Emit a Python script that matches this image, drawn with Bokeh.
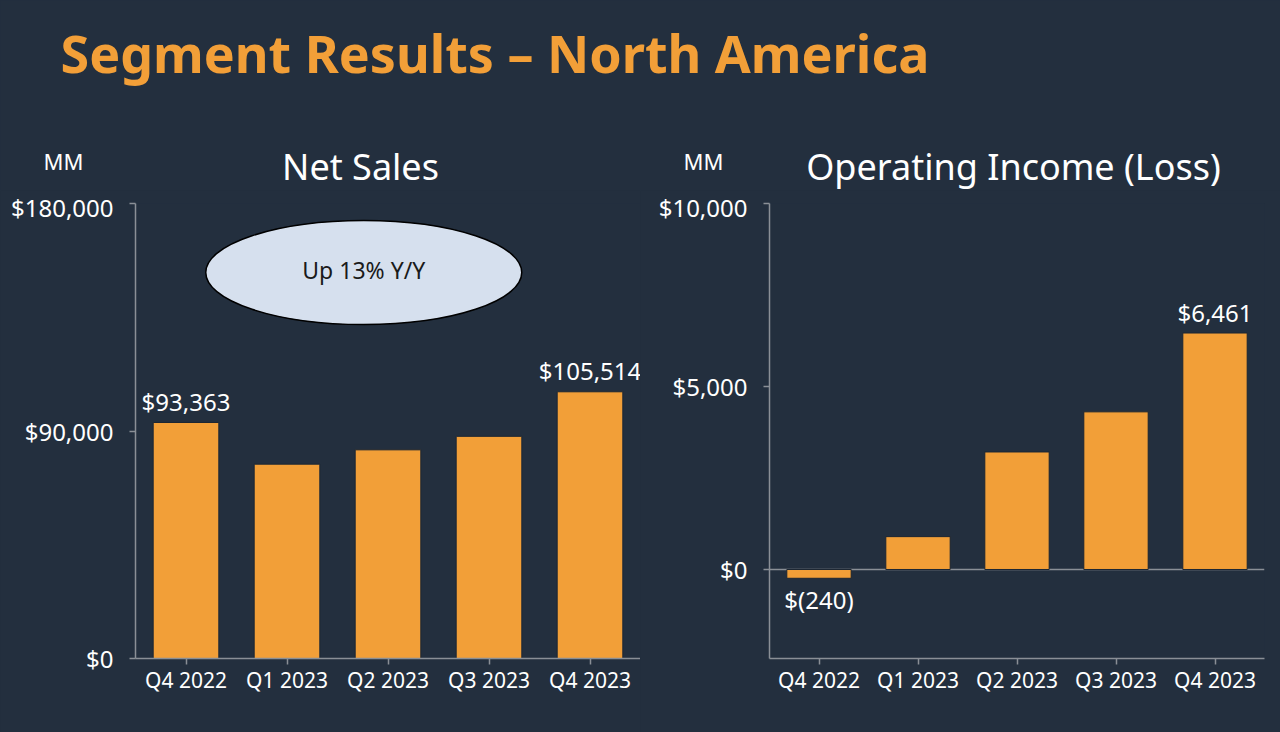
from bokeh.plotting import figure
from bokeh.models import (ColumnDataSource, FactorRange, Range1d, FixedTicker,
                          NumeralTickFormatter, Label, Span)
from bokeh.layouts import column, row
from bokeh.embed import file_html
from bokeh.resources import INLINE
from bokeh.core.properties import value

# ---------------- data ----------------
quarters = ["Q4 2022", "Q1 2023", "Q2 2023", "Q3 2023", "Q4 2023"]
net_sales = [93363, 76881, 82546, 87887, 105514]
operating_income = [-240, 898, 3211, 4307, 6461]
net_sales_labelled = ["Q4 2022", "Q4 2023"]
op_income_labelled = ["Q4 2022", "Q4 2023"]
net_sales_ticks = [0, 90000, 180000]
op_income_ticks = [0, 5000, 10000]
page_title = "Segment Results – North America"
left_title = "Net Sales"
right_title = "Operating Income (Loss)"
unit_label = "MM"

# ---------------- style ----------------
BG = "#232F3E"
ORANGE = "#F29F38"
AXIS = "#8a8f96"
WHITE = "#FFFFFF"
FONT = "Noto Sans"
STRIP_H = 190


def money(v):
    return f"$({abs(v):,})" if v < 0 else f"${v:,}"


def base_fig(y_start, y_end, ticks, left_border, right_border):
    p = figure(width=640, height=732 - STRIP_H, x_range=FactorRange(*quarters),
               y_range=Range1d(y_start, y_end), output_backend="svg",
               toolbar_location=None, min_border_top=203 - STRIP_H,
               min_border_bottom=74,
               min_border_left=left_border, min_border_right=right_border)
    p.background_fill_color = BG
    p.border_fill_color = BG
    p.outline_line_color = None
    p.grid.visible = False
    for ax in (p.xaxis[0], p.yaxis[0]):
        ax.axis_line_color = AXIS
        ax.axis_line_width = 1.5
        ax.major_tick_line_color = AXIS
        ax.major_tick_line_width = 1.5
        ax.major_tick_in = 0
        ax.major_tick_out = 6
        ax.minor_tick_line_color = None
        ax.major_label_text_color = WHITE
        ax.major_label_text_font = FONT
    p.yaxis[0].ticker = FixedTicker(ticks=ticks)
    p.yaxis[0].formatter = NumeralTickFormatter(format="$0,0")
    p.yaxis[0].major_label_text_font_size = "24px"
    p.yaxis[0].major_label_standoff = 16
    p.xaxis[0].major_label_text_font_size = "21px"
    p.xaxis[0].major_label_standoff = 1
    return p


def add_bars_and_labels(p, vals, labelled):
    src = ColumnDataSource(dict(x=quarters, top=vals))
    p.vbar(x="x", top="top", bottom=0, width=0.65, source=src,
           fill_color=ORANGE, line_color="#1c2633", line_width=1)
    pos = [(q, v) for q, v in zip(quarters, vals) if q in labelled and v >= 0]
    neg = [(q, v) for q, v in zip(quarters, vals) if q in labelled and v < 0]
    if pos:
        s = ColumnDataSource(dict(x=[a for a, _ in pos], y=[b for _, b in pos],
                                  t=[money(b) for _, b in pos]))
        p.text(x="x", y="y", text="t", source=s, text_align="center",
               text_baseline="middle", y_offset=-21, text_color=WHITE,
               text_font=value(FONT), text_font_size="24px")
    if neg:
        s = ColumnDataSource(dict(x=[a for a, _ in neg], y=[b for _, b in neg],
                                  t=[money(b) for _, b in neg]))
        p.text(x="x", y="y", text="t", source=s, text_align="center",
               text_baseline="middle", y_offset=21, text_color=WHITE,
               text_font=value(FONT), text_font_size="24px")


# ---------------- heading strip (page title, chart titles, units) ----------------
tp = figure(width=1280, height=STRIP_H, x_range=Range1d(0, 1280),
            y_range=Range1d(0, STRIP_H), output_backend="svg",
            toolbar_location=None, min_border=0,
            x_axis_location=None, y_axis_location=None)
tp.background_fill_color = BG
tp.border_fill_color = BG
tp.outline_line_color = None
tp.grid.visible = False


def strip_label(x, top_y, text, size, color=WHITE, align="center", style="normal"):
    tp.add_layout(Label(x=x, y=STRIP_H - top_y, text=text, text_color=color,
                        text_font=FONT, text_font_style=style,
                        text_font_size=size, text_align=align,
                        text_baseline="middle"))


strip_label(60, 52, page_title, "52px", color=ORANGE, align="left", style="bold")
strip_label(360, 166, left_title, "36px")
strip_label(1013, 166, right_title, "36px")
strip_label(63, 160, unit_label, "22px")
strip_label(703, 160, unit_label, "22px")

# ---------------- left: net sales ----------------
left = base_fig(0, net_sales_ticks[-1], net_sales_ticks, 135, 0)
add_bars_and_labels(left, net_sales, net_sales_labelled)

growth = round((net_sales[-1] / net_sales[0] - 1) * 100)
ell_x, ell_y = 2.26, 152700
left.ellipse(x=[ell_x], y=[ell_y], width=316, height=104, width_units="screen",
             height_units="screen", fill_color="#D6E0EE", line_color="#000000",
             line_width=1.5)
left.add_layout(Label(x=ell_x, y=ell_y, y_offset=3, text=f"Up {growth}% Y/Y",
                      text_align="center", text_baseline="middle",
                      text_color="#1a1a1a", text_font=FONT, text_font_size="23px"))

# ---------------- right: operating income ----------------
right = base_fig(-2432, op_income_ticks[-1], op_income_ticks, 129, 16)
right.add_layout(Span(location=0, dimension="width", line_color=AXIS, line_width=1.5,
                      level="underlay"))
add_bars_and_labels(right, operating_income, op_income_labelled)

layout = column(tp, row(left, right, spacing=0), spacing=0)
layout.styles = {"background-color": BG}

open("out.html", "w").write(file_html(layout, INLINE))
